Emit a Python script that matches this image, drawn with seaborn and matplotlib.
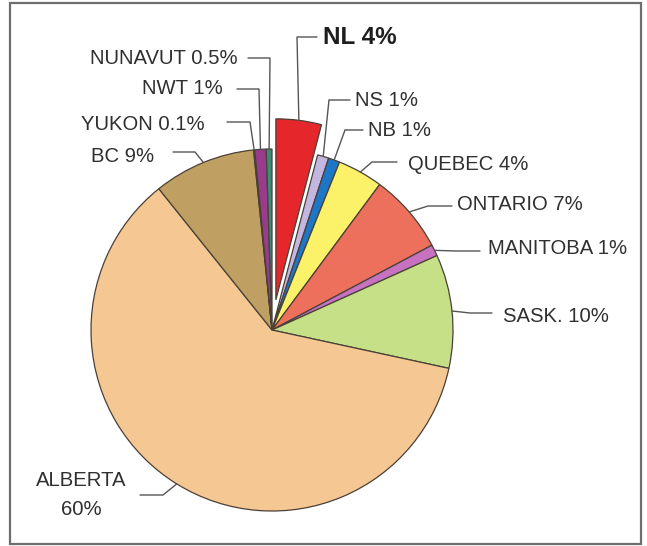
import matplotlib
matplotlib.use("Agg")
import matplotlib.pyplot as plt
from matplotlib.patches import Rectangle
import numpy as np
import seaborn as sns

# Provincial / territorial shares (%)
regions = ["NL", "NS", "NB", "QUEBEC", "ONTARIO", "MANITOBA", "SASK.",
           "ALBERTA", "BC", "YUKON", "NWT", "NUNAVUT"]
shares = [4, 1, 1, 4, 7, 1, 10, 60, 9, 0.1, 1, 0.5]
slice_colors = ["#e5262a", "#c3b6e0", "#1d76c6", "#fcf26a", "#ec705c", "#c672c0",
                "#c6e087", "#f5c792", "#bfa062", "#2f6f60", "#9a3c8c", "#3f8b78"]
highlight = "NL"

W, H = 647, 546
R = 181

sns.set_theme(style="white")
plt.rcParams["font.family"] = ["Liberation Sans", "DejaVu Sans"]

fig = plt.figure(figsize=(W / 100, H / 100), dpi=100)
ax = fig.add_axes([0, 0, 1, 1])


def P(x, y):
    """Pixel position (y measured from the top) to axes data coordinates."""
    return (x, H - y)


# pull the highlighted slice out of the pie (offset in data units)
explode = [0.168 * R if r == highlight else 0.0 for r in regions]
wedges, _ = ax.pie(
    shares,
    colors=slice_colors,
    startangle=90,
    counterclock=False,
    center=P(272, 330),
    radius=R,
    explode=explode,
    wedgeprops=dict(edgecolor="#4a4038", linewidth=0.9),
)
ax.set_xlim(0, W)
ax.set_ylim(0, H)
ax.set_aspect("equal")
ax.axis("off")

# outer frame
ax.add_patch(Rectangle(P(10, 544), 631, 541, fill=False,
                       edgecolor="#6e6e6e", linewidth=1.6))

# leader routing: elbow points, text anchor, alignment
layout = {
    "NL":       ([(297, 37), (317, 37)], (323, 37), "left"),
    "NS":       ([(329, 100), (350, 100)], (355, 100), "left"),
    "NB":       ([(345, 130), (363, 130)], (368, 130), "left"),
    "QUEBEC":   ([(372, 162), (397, 162)], (408, 165), "left"),
    "ONTARIO":  ([(428, 206), (452, 206)], (457, 204), "left"),
    "MANITOBA": ([(457, 251), (480, 251)], (488, 249), "left"),
    "SASK.":    ([(470, 313), (492, 313)], (503, 316), "left"),
    "ALBERTA":  ([(163, 495), (140, 495)], (81, 495), "center"),
    "BC":       ([(195, 152), (173, 152)], (154, 157), "right"),
    "YUKON":    ([(250, 122), (227, 122)], (205, 124), "right"),
    "NWT":      ([(259, 89), (237, 89)], (223, 89), "right"),
    "NUNAVUT":  ([(270, 58), (248, 58)], (238, 58), "right"),
}

for w, name, val in zip(wedges, regions, shares):
    mid = np.deg2rad((w.theta1 + w.theta2) / 2)
    cx, cy = w.center
    ax0 = cx + w.r * np.cos(mid)
    ay0 = cy + w.r * np.sin(mid)
    route, tpos, ha = layout[name]
    pts = [(ax0, ay0)] + [P(x, y) for x, y in route]
    xs, ys = zip(*pts)
    ax.plot(xs, ys, color="#555555", linewidth=1.0, solid_joinstyle="miter")

    sep = "\n" if name == "ALBERTA" else " "
    label = f"{name}{sep}{val:g}%"
    bold = name == highlight
    ax.text(*P(*tpos), label, ha=ha, va="center",
            fontsize=17.5 if bold else 14.6,
            fontweight="bold" if bold else "normal",
            color="#1e1e1e" if bold else "#303030",
            linespacing=1.7)

fig.savefig("out.png", dpi=100, facecolor="white")
